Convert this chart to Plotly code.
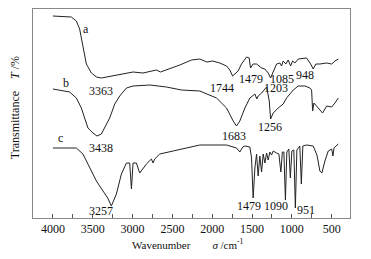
import plotly.graph_objects as go

# Curve a
a_wn = [4000, 3769, 3706, 3664, 3643, 3614, 3580, 3517, 3454, 3392, 3203, 2994, 2869, 2700, 2650,
        2533, 2407, 2260, 2156, 2068, 1993, 1905, 1820, 1779, 1744, 1675, 1632, 1569, 1536, 1519,
        1486, 1443, 1380, 1339, 1297, 1267, 1234, 1192, 1150, 1129, 1109, 1075, 1046, 1016, 991,
        962, 920, 857, 815, 764, 732, 698, 648, 563, 500, 459, 417]
a_t = [202, 201, 197, 189, 180, 167, 154, 145, 141, 140, 143, 146, 145, 148, 146,
       149, 153, 158, 159, 156, 157, 155, 152, 148, 142, 147, 154, 161, 160, 150,
       154, 154, 150, 149, 145, 140, 147, 154, 155, 152, 157, 154, 158, 152, 157,
       155, 159, 160, 160, 154, 149, 154, 154, 155, 154, 157, 159]

# Curve b
b_wn = [4000, 3790, 3706, 3643, 3602, 3560, 3497, 3447, 3392, 3350, 3309, 3287, 3224, 3161, 3077,
        2994, 2784, 2575, 2386, 2156, 1946, 1820, 1737, 1695, 1653, 1590, 1527, 1464, 1440, 1423,
        1380, 1339, 1317, 1284, 1267, 1234, 1172, 1109, 1066, 983, 920, 836, 773, 752, 739,
        723, 669, 614, 563, 500, 459, 417]
b_t = [129, 126, 120, 110, 100, 90, 85, 82, 84, 90, 97, 100, 114, 122, 130,
       132, 133, 131, 128, 127, 120, 110, 97, 92, 97, 110, 120, 124, 119, 122,
       125, 129, 131, 117, 99, 105, 110, 114, 120, 128, 132, 132, 130, 128, 107,
       115, 110, 105, 112, 111, 115, 120]

# Curve c
c_wn = [4000, 3706, 3623, 3539, 3454, 3371, 3312, 3266, 3203, 3140, 3077, 3036, 3014, 2994, 2952,
        2910, 2869, 2826, 2763, 2743, 2722, 2659, 2491, 2323, 2156, 1820, 1695, 1653, 1616, 1590,
        1527, 1506, 1486, 1464, 1443, 1423, 1402, 1380, 1360, 1339, 1317, 1297, 1276, 1255, 1234,
        1192, 1163, 1138, 1119, 1100, 1081, 1063, 1038, 1019, 1000, 975, 956, 937, 900, 881,
        862, 815, 732, 685, 648, 623, 585, 543, 500, 484, 471, 446, 417]
c_t = [70, 70, 64, 50, 37, 27, 20, 12, 24, 44, 55, 55, 29, 55, 55,
       45, 50, 54, 59, 55, 59, 64, 67, 70, 73, 73, 70, 66, 71, 72,
       71, 60, 20, 50, 64, 42, 62, 46, 64, 55, 65, 58, 66, 63, 67,
       65, 64, 46, 66, 66, 18, 66, 69, 40, 67, 68, 10, 68, 72, 34,
       72, 73, 72, 63, 47, 45, 57, 67, 69, 62, 70, 72, 74]

# Peak labels
label_text = ["a", "3363", "1744", "1479", "1085", "948", "1203",
              "b", "1256", "3438", "1683",
              "c", "3257", "1479", "1090", "951"]
label_wn = [3589, 3400, 1883, 1517, 1129, 836, 1203,
            3840, 1276, 3400, 1729,
            3903, 3400, 1534, 1203, 824]
label_t = [189, 127, 130, 139, 139, 143, 130,
           135, 91, 70, 82,
           80, 7, 12, 12, 8]

tick_vals = [4000, 3500, 3000, 2500, 2000, 1500, 1000, 500]
tick_text = ["4000", "3500", "3000", "2500", "2000", "1500", "1000", "500"]

FONT = "Liberation Serif"
LINE = "#222222"

fig = go.Figure()
for wn, t in [(a_wn, a_t), (b_wn, b_t), (c_wn, c_t)]:
    fig.add_trace(go.Scatter(x=wn, y=t, mode="lines",
                             line=dict(color=LINE, width=1), showlegend=False,
                             hoverinfo="skip"))

for txt, wx, ty in zip(label_text, label_wn, label_t):
    fig.add_annotation(x=wx, y=ty, xref="x", yref="y", text=txt, showarrow=False,
                       font=dict(family=FONT, size=12, color="#111"),
                       xanchor="center", yanchor="middle")

# axis titles
fig.add_annotation(x=-0.057, y=0.53, xref="paper", yref="paper", textangle=-90,
                   text="Transmittance\u00a0\u00a0\u00a0\u00a0<i>T</i> /%",
                   showarrow=False, font=dict(family=FONT, size=12, color="#111"),
                   xanchor="center", yanchor="middle")
fig.add_annotation(x=0.49, y=-0.124, xref="paper", yref="paper",
                   text="Wavenumber\u00a0\u00a0\u00a0\u00a0\u00a0\u00a0\u00a0\u00a0<i>σ</i> /cm<sup>-1</sup>",
                   showarrow=False, font=dict(family=FONT, size=11, color="#111"),
                   xanchor="center", yanchor="middle")

fig.update_xaxes(range=[4250, 270], tickvals=tick_vals, ticktext=tick_text,
                 ticks="inside", ticklen=4, tickwidth=1, tickcolor="#555",
                 minor=dict(tickvals=[3750, 3250, 2750, 2250, 1750, 1250, 750],
                            ticks="inside", ticklen=4, tickcolor="#555"),
                 showline=True, mirror=True, linecolor="#888", linewidth=1,
                 showgrid=False, zeroline=False,
                 tickfont=dict(family=FONT, size=12, color="#111"))
fig.update_yaxes(range=[0, 209], showticklabels=False, ticks="",
                 showline=True, mirror=True, linecolor="#888", linewidth=1,
                 showgrid=False, zeroline=False)

# page body has an 8px default margin; size the figure to fit inside the window
fig.update_layout(width=355, height=243, margin=dict(l=25, r=13, t=1, b=33),
                  plot_bgcolor="white", paper_bgcolor="white",
                  font=dict(family=FONT, size=12, color="#111"))

fig.write_html("out.html")
